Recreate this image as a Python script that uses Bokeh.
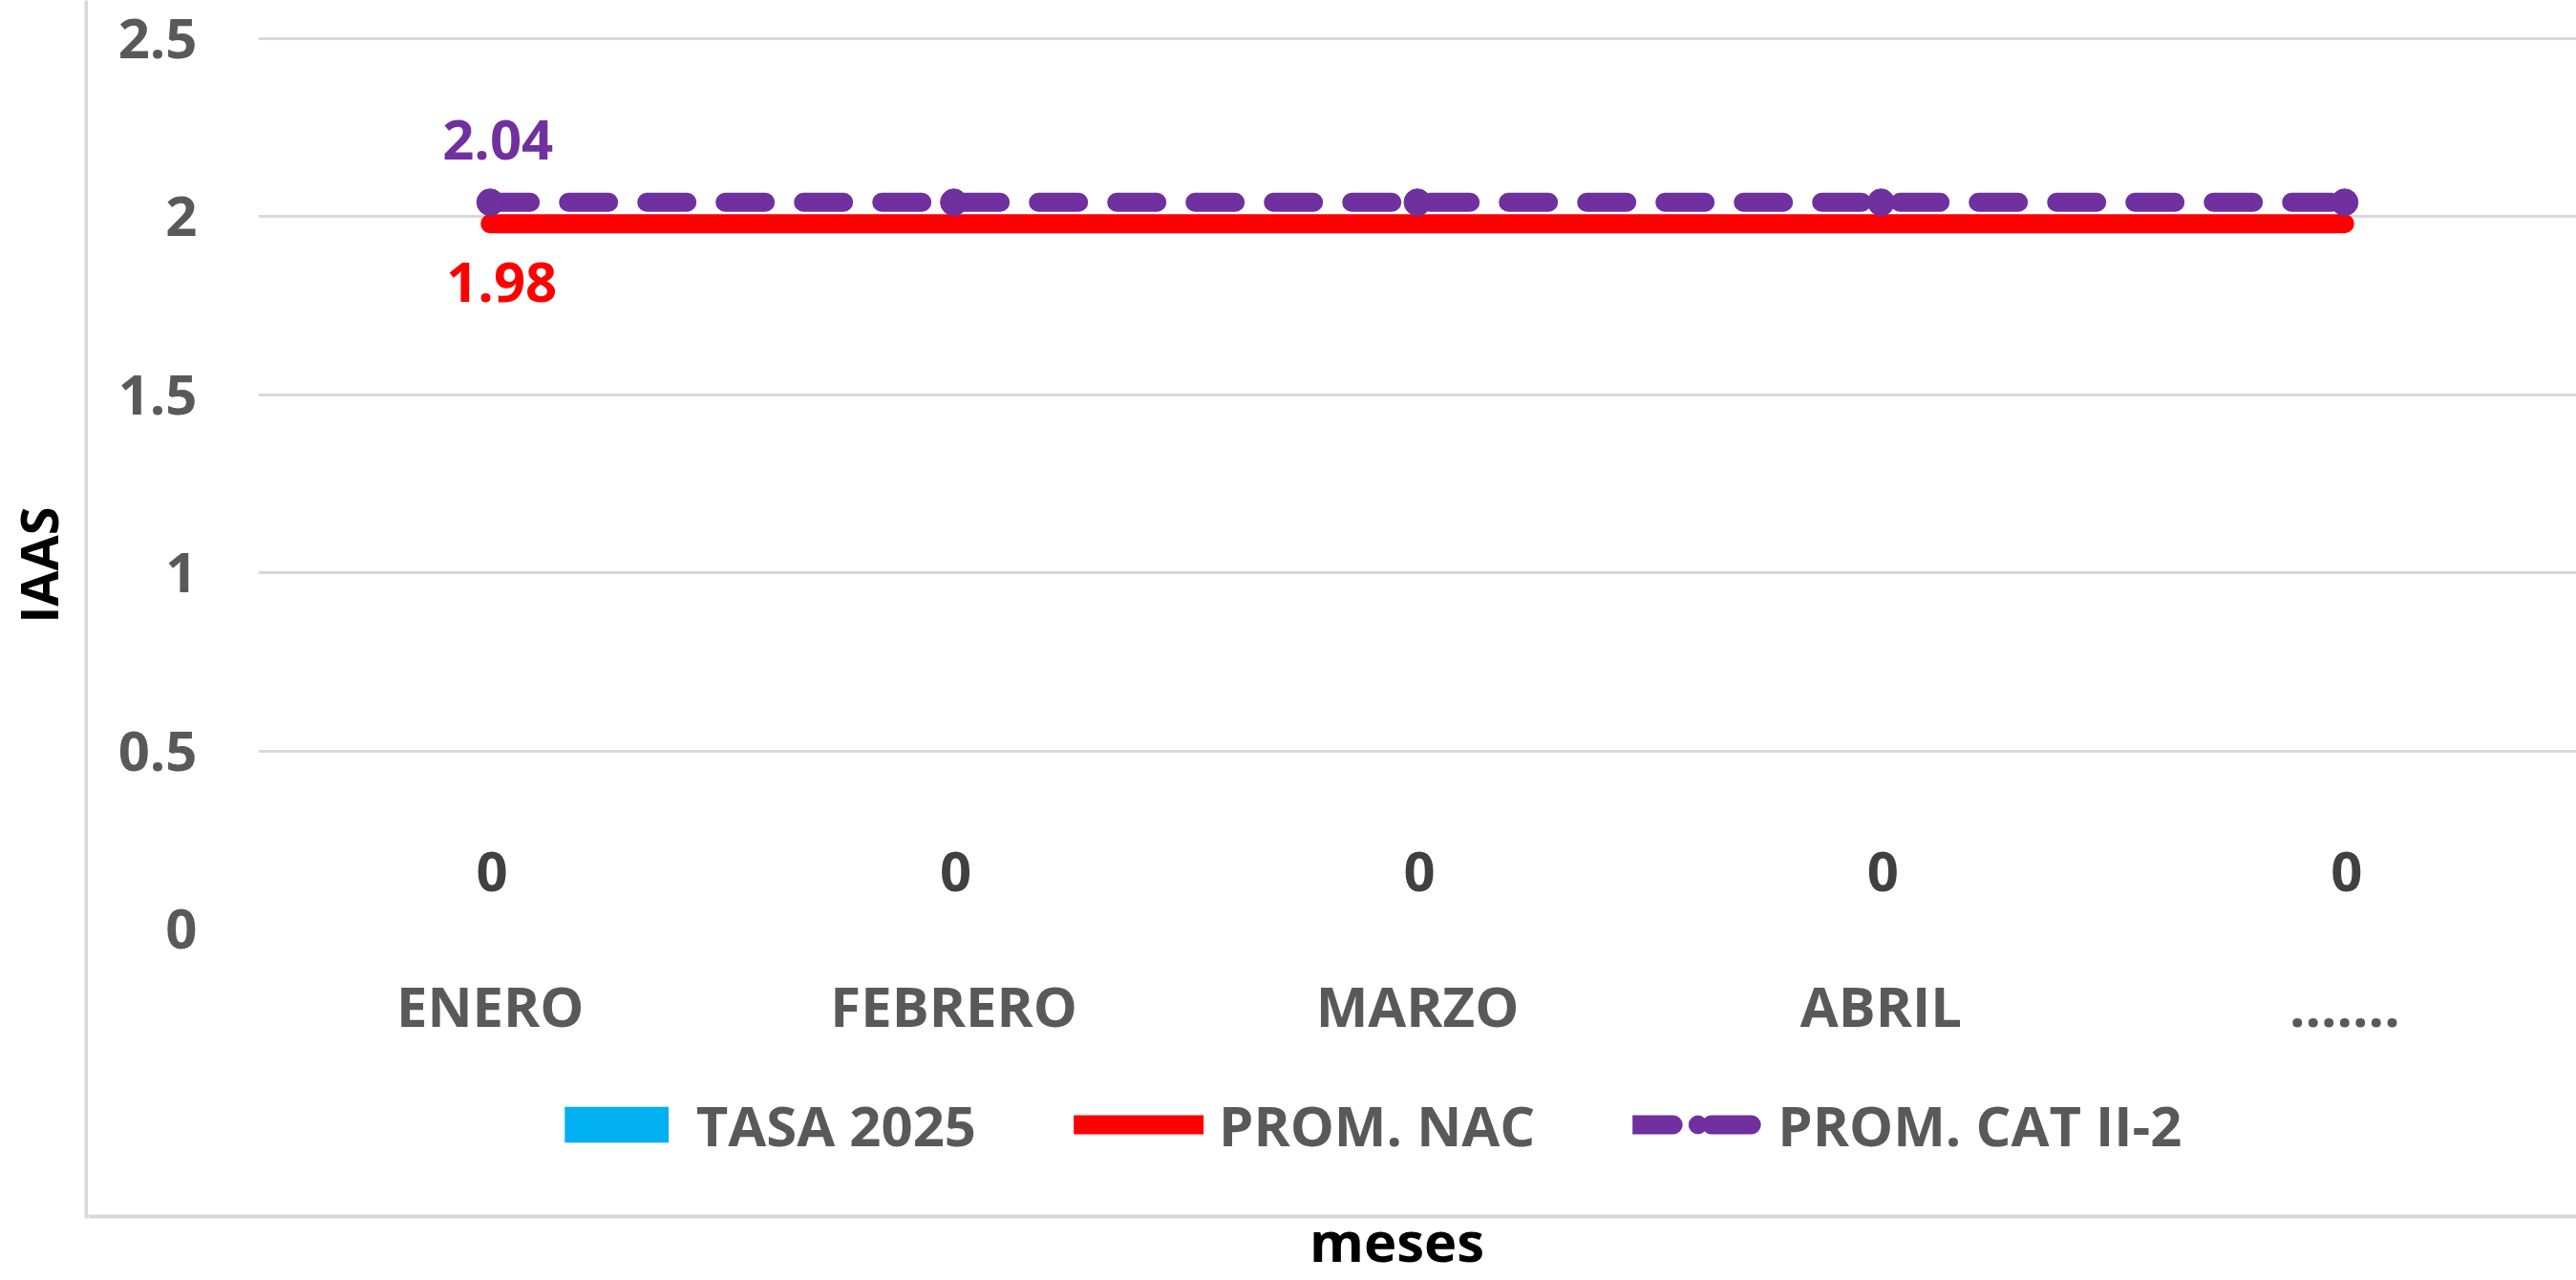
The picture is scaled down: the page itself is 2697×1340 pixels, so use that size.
import math
from bokeh.plotting import figure
from bokeh.layouts import row, column
from bokeh.models import (Legend, LegendItem, FixedTicker, NumeralTickFormatter,
                          ColumnDataSource)
from bokeh.core.properties import value
from bokeh.embed import file_html
from bokeh.resources import INLINE

# ---- data ----
meses = ["ENERO", "FEBRERO", "MARZO", "ABRIL", "......."]
tasa_2025 = [0, 0, 0, 0, 0]
prom_nac = [1.98, 1.98, 1.98, 1.98, 1.98]
prom_cat = [2.04, 2.04, 2.04, 2.04, 2.04]
y_ticks = [0, 0.5, 1, 1.5, 2, 2.5]
series_names = ["TASA 2025", "PROM. NAC", "PROM. CAT II-2"]
y_title = "IAAS"
x_title = "meses"

FONT = "Open Sans"
GRAY = "#595959"
BLUE = "#00B0F0"
RED = "#FF0000"
PURPLE = "#7030A0"
BORDER = "#D9D9D9"

TOTAL_W, TOTAL_H = 2697, 1340
LEFT_W = 92            # strip: y title + chart-area left border
MAIN_W = TOTAL_W - LEFT_W
MAIN_H = 1100          # plot frame + category axis
LEG_H = 154            # legend strip
BOTTOM_H = TOTAL_H - MAIN_H - LEG_H   # chart-area bottom border + x title

# ---- main chart ----
p = figure(x_range=meses, y_range=(0, 2.51), width=MAIN_W, height=MAIN_H,
           output_backend="svg", toolbar_location=None,
           min_border_left=178, min_border_top=36, min_border_right=0,
           min_border_bottom=128, frame_align=False)
p.outline_line_color = None

src = ColumnDataSource(dict(x=meses, tasa=tasa_2025, nac=prom_nac, cat=prom_cat,
                            tasa_lbl=["%g" % v for v in tasa_2025]))

bar_style = dict(fill_color=BLUE, line_color=None)
red_style = dict(line_color=RED, line_width=20, line_cap="round")
pur_style = dict(line_color=PURPLE, line_width=20, line_cap="round", line_dash="42 40")
pt_style = dict(size=28, color=PURPLE)

p.vbar(x="x", top="tasa", width=0.5, source=src, **bar_style)
p.line(x="x", y="nac", source=src, **red_style)
p.line(x="x", y="cat", source=src, **pur_style)
p.scatter(x="x", y="cat", source=src, **pt_style)

# data labels
lbl = dict(text_align="center", text_baseline="middle", text_font=value(FONT),
           text_font_style="bold", text_font_size="58px")
p.text(x="x", y="tasa", text="tasa_lbl", source=src, x_offset=2, y_offset=-60,
       text_color="#404040", **lbl)
first = ColumnDataSource(dict(x=meses[:1], nac=prom_nac[:1], cat=prom_cat[:1],
                              nac_lbl=["%g" % v for v in prom_nac[:1]],
                              cat_lbl=["%g" % v for v in prom_cat[:1]]))
p.text(x="x", y="cat", text="cat_lbl", source=first, x_offset=8, y_offset=-65,
       text_color=PURPLE, **lbl)
p.text(x="x", y="nac", text="nac_lbl", source=first, x_offset=12, y_offset=61,
       text_color=RED, **lbl)

# axes
p.yaxis.ticker = FixedTicker(ticks=y_ticks)
p.yaxis.formatter = NumeralTickFormatter(format="0.[0]")
for ax in (p.xaxis[0], p.yaxis[0]):
    ax.axis_line_color = None
    ax.major_tick_line_color = None
    ax.minor_tick_line_color = None
    ax.major_tick_out = 0
    ax.major_tick_in = 0
    ax.major_label_text_font = FONT
    ax.major_label_text_font_style = "bold"
    ax.major_label_text_font_size = "58px"
    ax.major_label_text_color = GRAY
p.yaxis.major_label_standoff = 64
p.xaxis.major_label_standoff = 40

p.xgrid.grid_line_color = None
p.ygrid.ticker = FixedTicker(ticks=y_ticks)
p.ygrid.grid_line_color = BORDER
p.ygrid.grid_line_width = 3

# ---- left strip: y title + chart-area left border ----
fl = figure(width=LEFT_W, height=TOTAL_H, x_range=(0, LEFT_W), y_range=(TOTAL_H, 0),
            output_backend="svg", toolbar_location=None,
            x_axis_type=None, y_axis_type=None, min_border=0, frame_align=False)
fl.outline_line_color = None
fl.grid.visible = False
fl.segment(x0=[90], y0=[-10], x1=[90], y1=[1275], line_color=BORDER, line_width=4)
fl.text(x=[39], y=[591], text=[y_title], angle=math.pi / 2, text_align="center",
        text_baseline="middle", text_font=value(FONT), text_font_style="bold",
        text_font_size="54px", text_color="black")

# ---- legend strip (legend proxies share the series styles, hidden) ----
fg = figure(width=MAIN_W, height=LEG_H, x_range=(0, 1), y_range=(0, 1),
            output_backend="svg", toolbar_location=None,
            x_axis_type=None, y_axis_type=None, min_border=0,
            min_border_left=72, frame_align=False)
fg.outline_line_color = None
fg.grid.visible = False
proxy = ColumnDataSource(dict(x=[0], y=[0]))
lg_bar = fg.vbar(x="x", top="y", width=1, source=proxy, visible=False, **bar_style)
lg_red = fg.line(x="x", y="y", source=proxy, visible=False, **red_style)
lg_pur = fg.line(x="x", y="y", source=proxy, visible=False, **pur_style)
lg_pts = fg.scatter(x="x", y="y", source=proxy, visible=False, **pt_style)
legend = Legend(items=[LegendItem(label=series_names[0], renderers=[lg_bar]),
                       LegendItem(label=series_names[1], renderers=[lg_red]),
                       LegendItem(label=series_names[2], renderers=[lg_pur, lg_pts])],
                orientation="horizontal", location="center",
                glyph_width=136, glyph_height=47, label_standoff=16, spacing=102,
                padding=0, margin=0, border_line_color=None,
                background_fill_alpha=0,
                label_text_font=FONT, label_text_font_style="bold",
                label_text_font_size="58px", label_text_color=GRAY)
fg.add_layout(legend)

# ---- bottom strip: chart-area bottom border + x title ----
fb = figure(width=MAIN_W, height=BOTTOM_H, x_range=(0, MAIN_W), y_range=(BOTTOM_H, 0),
            output_backend="svg", toolbar_location=None,
            x_axis_type=None, y_axis_type=None, min_border=0, frame_align=False)
fb.outline_line_color = None
fb.grid.visible = False
fb.segment(x0=[-10], y0=[19], x1=[MAIN_W + 10], y1=[19], line_color=BORDER, line_width=4)
fb.text(x=[1370], y=[44], text=[x_title], text_align="center", text_baseline="middle",
        text_font=value(FONT), text_font_style="bold", text_font_size="58px",
        text_color="black")

layout = row(fl, column(p, fg, fb, spacing=0), spacing=0)
open("out.html", "w").write(file_html(layout, INLINE))
